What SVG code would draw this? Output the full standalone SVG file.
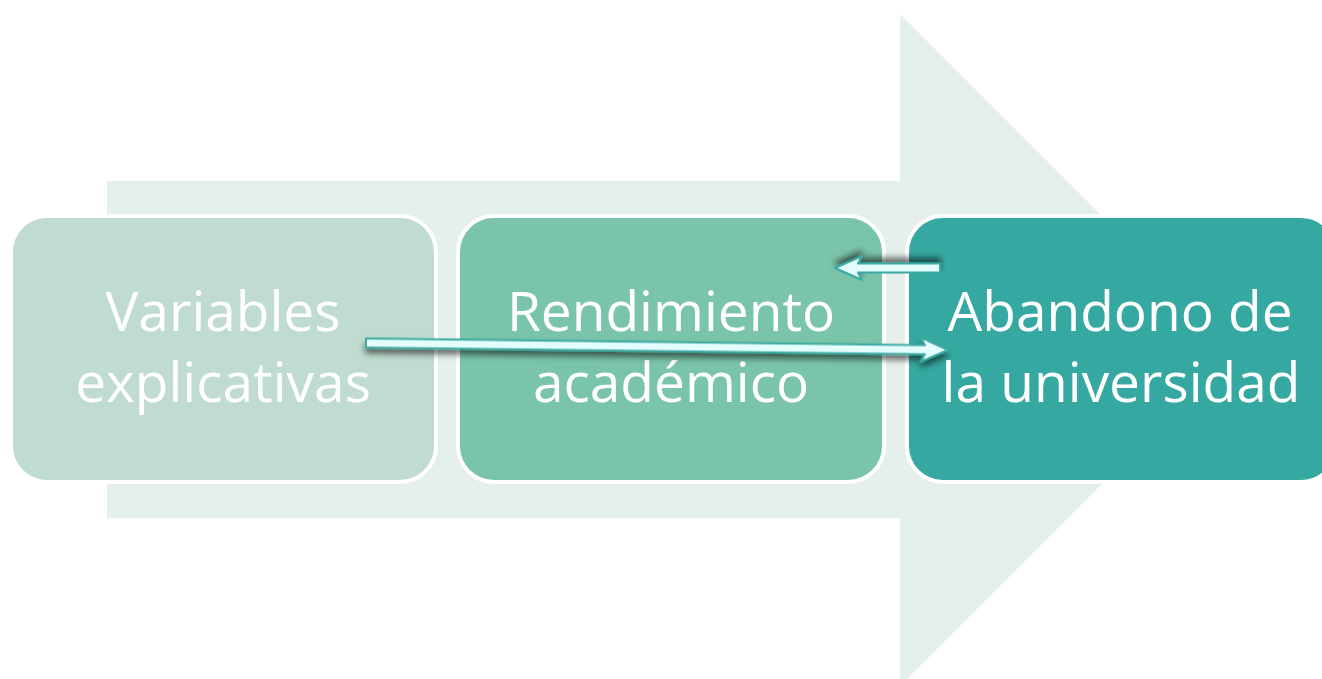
<svg xmlns="http://www.w3.org/2000/svg" width="1322" height="679" viewBox="0 0 1322 679">
<style>
.node{stroke:#ffffff;stroke-width:4}
.lbl{font-family:"Open Sans","Noto Sans",sans-serif;font-size:55px;fill:#ffffff;text-anchor:middle}
.conn{fill:#E2FDFC;stroke:#3AAAA2;stroke-width:2;stroke-linejoin:round}
</style>
<defs>
<filter id="sh" x="-10%" y="-200%" width="120%" height="500%">
<feDropShadow dx="0" dy="5" stdDeviation="3" flood-color="#000" flood-opacity="0.55"/>
</filter>
</defs>
<rect width="1322" height="679" fill="#ffffff"/>
<g id="bigArrow">
<polygon points="107,181 900,181 900,14 1236,350 900,686 900,518 107,518" fill="#E6F0EB"/>
</g>
<g id="node1">
<rect class="node" x="11" y="216" width="425" height="266" rx="36" fill="#C0DBCF"/>
<text class="lbl" x="223" y="331">Variables</text>
<text class="lbl" x="223" y="402">explicativas</text>
</g>
<g id="node2">
<rect class="node" x="458" y="216" width="426" height="266" rx="36" fill="#7AC4AA"/>
<text class="lbl" x="671" y="331">Rendimiento</text>
<text class="lbl" x="671" y="402">académico</text>
</g>
<g id="node3">
<rect class="node" x="907" y="216" width="430" height="266" rx="36" fill="#35A9A1"/>
<text class="lbl" x="1120" y="331">Abandono de</text>
<text class="lbl" x="1121" y="402">la universidad</text>
</g>
<g id="connectors">
<polygon class="conn" filter="url(#sh)" transform="translate(366,343) rotate(0.69)" points="0,-4.5 559,-4.5 555,-12 582,0 555,12 559,4.5 0,4.5"/>
<polygon class="conn" filter="url(#sh)" transform="translate(940,268) rotate(180)" points="0,-4.5 82,-4.5 78,-12 105,0 78,12 82,4.5 0,4.5"/>
</g>
</svg>
